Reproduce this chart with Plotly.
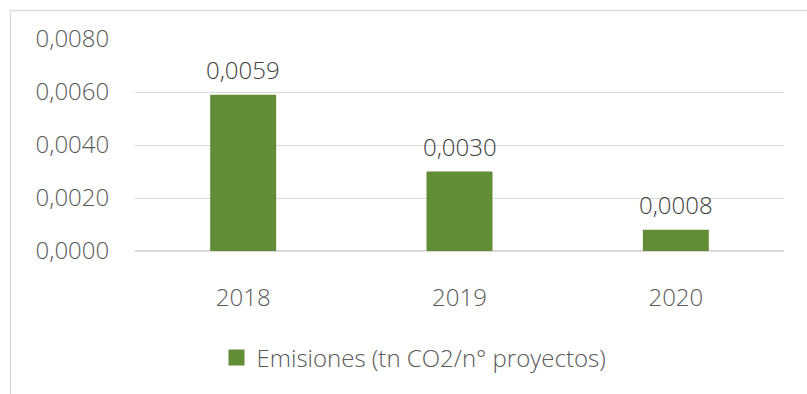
import plotly.graph_objects as go

years = ["2018", "2019", "2020"]
emisiones = [0.0059, 0.0030, 0.0008]
serie = "Emisiones (tn CO2/n° proyectos)"
y_ticks = [0.0, 0.002, 0.004, 0.006, 0.008]

GREEN = "#638C36"
FONT = "Open Sans"
WEIGHT = 300
FS = 24

W, H = 807, 394
L, R, T, B = 135, 23, 39, 143
pw, ph = W - L - R, H - T - B

fig = go.Figure()
fig.add_trace(go.Bar(
    x=years, y=emisiones, marker=dict(color=GREEN, line=dict(width=0)),
    showlegend=False, width=0.305,
))
# legend entry with a larger square swatch
fig.add_trace(go.Scatter(
    x=[years[0]], y=[None], mode="markers", name=serie,
    marker=dict(symbol="square", size=16, color=GREEN),
))

# value labels above each bar (category index positions)
annotations = [
    dict(x=i, y=v, xref="x", yref="y",
         text=f"{v:.4f}".replace(".", ","), showarrow=False,
         yanchor="middle", yshift=25,
         font=dict(family=FONT, size=FS, color="#404040", weight=WEIGHT))
    for i, v in enumerate(emisiones)
]

fig.update_layout(
    width=W, height=H, separators=",.",
    margin=dict(l=L, r=R, t=T, b=B),
    plot_bgcolor="white", paper_bgcolor="white",
    font=dict(family=FONT, size=FS, color="#595959", weight=WEIGHT),
    showlegend=True,
    legend=dict(orientation="h", x=(414 - L) / pw, xanchor="center",
                y=(T + ph - 358) / ph, yanchor="middle",
                font=dict(family=FONT, size=FS, color="#595959", weight=WEIGHT),
                itemsizing="trace"),
    xaxis=dict(type="category", categoryorder="array", categoryarray=years,
               range=[-0.5, len(years) - 0.5],
               showgrid=False, showline=False,
               ticks="outside", ticklen=25, tickcolor="rgba(0,0,0,0)",
               tickfont=dict(size=FS)),
    yaxis=dict(range=[0, 0.008], tickvals=y_ticks, tickformat=".4f",
               showgrid=True, gridcolor="#D9D9D9", gridwidth=1.3,
               zeroline=True, zerolinecolor="#D9D9D9", zerolinewidth=1.6,
               ticks="outside", ticklen=20, tickcolor="rgba(0,0,0,0)",
               tickfont=dict(size=FS)),
    annotations=annotations,
    shapes=[dict(type="rect", xref="paper", yref="paper",
                 x0=(10.5 - L) / pw, x1=(W + 5 - L) / pw,
                 y0=(T + ph - (H + 5)) / ph, y1=1 + (T - 10.5) / ph,
                 line=dict(color="#D9D9D9", width=1.3), layer="below")],
)

fig.write_html("out.html")
